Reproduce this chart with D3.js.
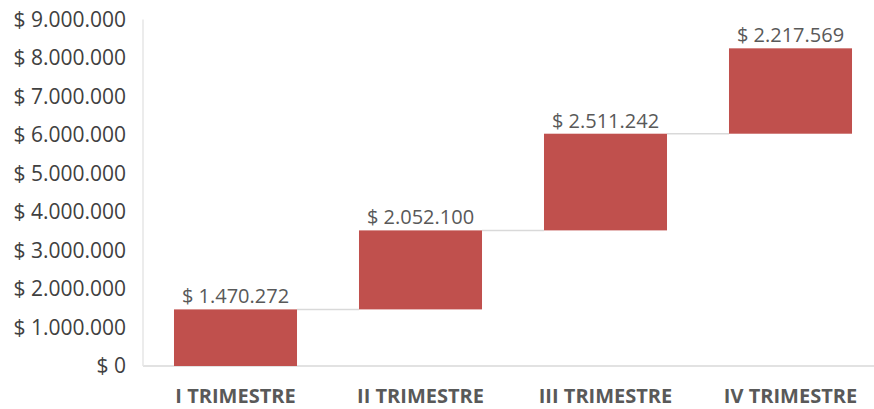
<!DOCTYPE html>
<html>
<head>
<meta charset="utf-8">
<script src="https://cdn.jsdelivr.net/npm/d3@7.9.0/dist/d3.min.js"></script>
<style>
  body { margin: 0; background: #fff; }
  text { font-family: "Open Sans", sans-serif; }
</style>
</head>
<body>
<svg id="chart" width="874" height="409"></svg>
<script>
const categories = ["I TRIMESTRE", "II TRIMESTRE", "III TRIMESTRE", "IV TRIMESTRE"];
const values = [1470272, 2052100, 2511242, 2217569];
const yTicks = [0, 1000000, 2000000, 3000000, 4000000, 5000000, 6000000, 7000000, 8000000, 9000000];

const width = 874, height = 409;
const svg = d3.select("#chart");

// waterfall: each bar starts where the previous ended
let running = 0;
const steps = values.map((v, i) => {
  const d = { name: categories[i], value: v, start: running, end: running + v };
  running += v;
  return d;
});

const x = d3.scaleBand()
  .domain(categories)
  .range([143, 883])
  .paddingInner(0.335)
  .paddingOuter(0.1675);

const y = d3.scaleLinear()
  .domain([0, 9000000])
  .range([366, 19.5]);

const fmt = v => "$ " + d3.format(",")(v).replace(/,/g, ".");

// axis lines
svg.append("line")
  .attr("x1", 143).attr("x2", width)
  .attr("y1", y(0)).attr("y2", y(0))
  .attr("stroke", "#d9d9d9").attr("stroke-width", 1.5);

svg.append("line")
  .attr("x1", 143).attr("x2", 143)
  .attr("y1", y(9000000)).attr("y2", y(0))
  .attr("stroke", "#e6e6e6").attr("stroke-width", 1.5);

// y tick labels
svg.append("g")
  .selectAll("text")
  .data(yTicks)
  .join("text")
  .attr("x", 126)
  .attr("y", d => y(d))
  .attr("dy", "0.35em")
  .attr("text-anchor", "end")
  .attr("font-size", "21px")
  .attr("fill", "#404040")
  .text(d => fmt(d));

// connectors
svg.append("g")
  .selectAll("line")
  .data(steps.slice(0, -1))
  .join("line")
  .attr("x1", d => x(d.name) + x.bandwidth())
  .attr("x2", (d, i) => x(categories[i + 1]))
  .attr("y1", d => y(d.end))
  .attr("y2", d => y(d.end))
  .attr("stroke", "#d9d9d9")
  .attr("stroke-width", 1.5);

// bars
svg.append("g")
  .selectAll("rect")
  .data(steps)
  .join("rect")
  .attr("x", d => x(d.name))
  .attr("y", d => y(d.end))
  .attr("width", x.bandwidth())
  .attr("height", d => y(d.start) - y(d.end))
  .attr("fill", "#c0504d");

// value labels
svg.append("g")
  .selectAll("text")
  .data(steps)
  .join("text")
  .attr("x", d => x(d.name) + x.bandwidth() / 2)
  .attr("y", d => y(d.end) - 6)
  .attr("text-anchor", "middle")
  .attr("font-size", "20px")
  .attr("fill", "#595959")
  .text(d => fmt(d.value));

// category labels
svg.append("g")
  .selectAll("text")
  .data(categories)
  .join("text")
  .attr("x", d => x(d) + x.bandwidth() / 2)
  .attr("y", 403)
  .attr("text-anchor", "middle")
  .attr("font-size", "20px")
  .attr("font-weight", "bold")
  .attr("fill", "#595959")
  .text(d => d);
</script>
</body>
</html>
